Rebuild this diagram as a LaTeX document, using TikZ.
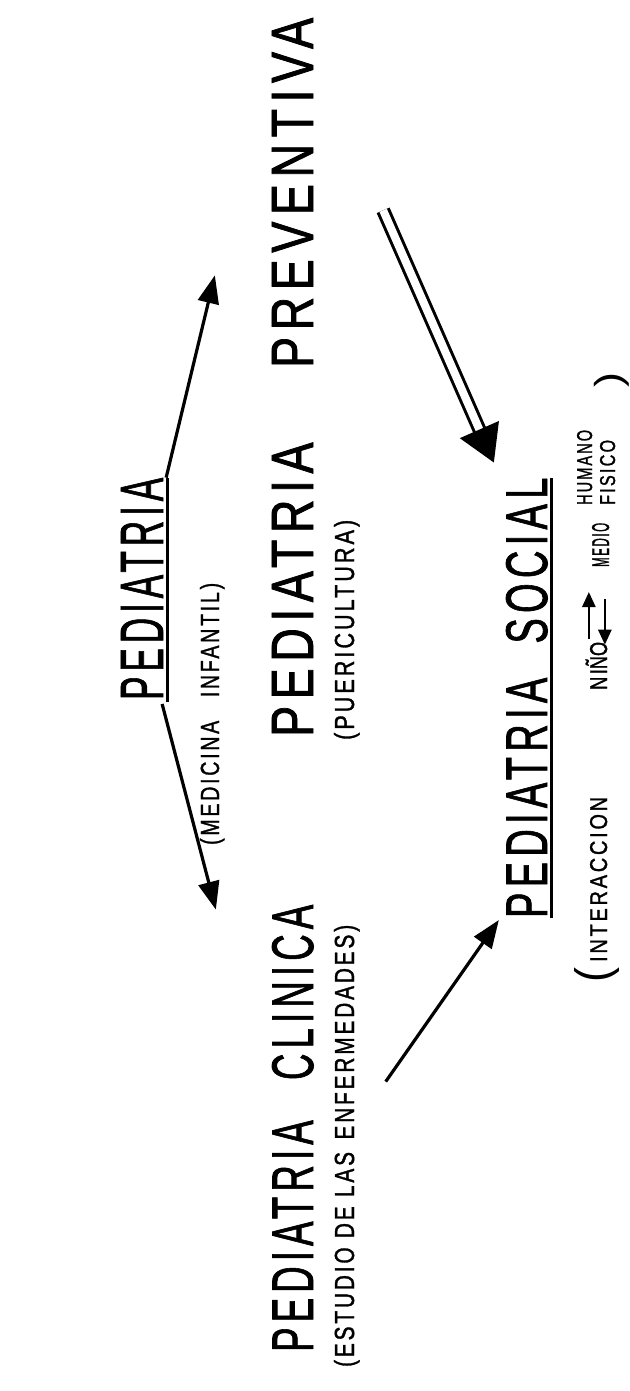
\documentclass[tikz,border=0pt]{standalone}
\usepackage{fontspec}
\setmainfont{Liberation Sans}
\newfontfamily\lettering[LetterSpace=14,FakeBold=1.5]{Liberation Sans}
\usetikzlibrary{arrows.meta,calc}
\newlength\px
\setlength\px{0.05cm}
\newcommand\fitted[3]{\resizebox{#1\px}{#2\px}{\lettering #3}}
\begin{document}
\begin{tikzpicture}[x=0.05cm,y=-0.05cm,
  title/.style={rotate=90, inner sep=0pt, anchor=base west},
  paren/.style={rotate=90, inner sep=0pt, anchor=center},
  conn/.style={line width=0.16cm, -{Triangle[length=1.4cm,width=1.05cm]}},
  small/.style={line width=0.13cm, -{Triangle[length=0.75cm,width=0.65cm]}},
  uline/.style={line width=0.16cm}]
\fill[white] (0,0) rectangle (626,1391);
% titles
\node[title] (pedtop) at (163,700) {\fitted{222}{42}{PEDIATRIA}};
\node[title] (medicina) at (219,845) {\fitted{262}{19}{(MEDICINA\hspace{1.2em}INFANTIL)}};
\node[title] (clinica) at (313,1352) {\fitted{447}{41}{PEDIATRIA\hspace{1.1em}CLINICA}};
\node[title] (estudio) at (354,1367) {\fitted{442}{20}{(ESTUDIO\hspace{0.45em}DE\hspace{0.45em}LAS\hspace{0.6em}ENFERMEDADES)}};
\node[title] (preventiva) at (313,737) {\fitted{719}{41}{PEDIATRIA\hspace{1.6em}PREVENTIVA}};
\node[title] (pueri) at (354,740) {\fitted{220}{20}{(PUERICULTURA)}};
\node[title] (social) at (547,918) {\fitted{440}{41}{PEDIATRIA\hspace{0.9em}SOCIAL}};
\node[paren] (oparen) at (597,975) {\resizebox*{15\px}{45\px}{(}};
\node[title] (inter) at (607,962) {\fitted{165}{17}{INTERACCION}};
\node[title] (nino) at (607,690) {\fitted{48}{17}{NI\smash{Ñ}O}};
\node[title] (medio) at (609,567) {\fitted{44}{17}{MEDIO}};
\node[title] (humano) at (592,505) {\fitted{75}{15}{HUMANO}};
\node[title] (fisico) at (615,505) {\fitted{65}{15}{FISICO}};
\node[paren] (cparen) at (612,380) {\resizebox*{15\px}{35\px}{)}};
% underlines
\draw[uline] ($(pedtop.south west)+(4,2)$) -- ($(pedtop.south east)+(4,0)$);
\draw[uline] ($(social.south west)+(4,0)$) -- ($(social.south east)+(4,0)$);
% connectors
\draw[conn] ($(pedtop.south east)+(3,0)$) -- ($(preventiva.north)+(-57,-102)$);
\draw[conn] ($(pedtop.south west)+(-1,4)$) -- ($(clinica.north east)+(-56,5)$);
\draw[conn] ($(clinica.south east)+(72,177)$) -- ($(social.north west)+(-7,2)$);
\draw[line width=0.15cm, double distance=0.4cm, -{Triangle[length=1.8cm,width=2.1cm]}]
  ($(preventiva.south)+(70,-167)$) -- ($(social.north east)+(-12,-15)$);
\draw[small] ($(nino.north east)+(-1,-3)$) -- ($(medio.north west)+(-3,25)$);
\draw[small] ($(medio.north west)+(13,32)$) -- ($(nino.north east)+(15,3)$);
\end{tikzpicture}
\end{document}
